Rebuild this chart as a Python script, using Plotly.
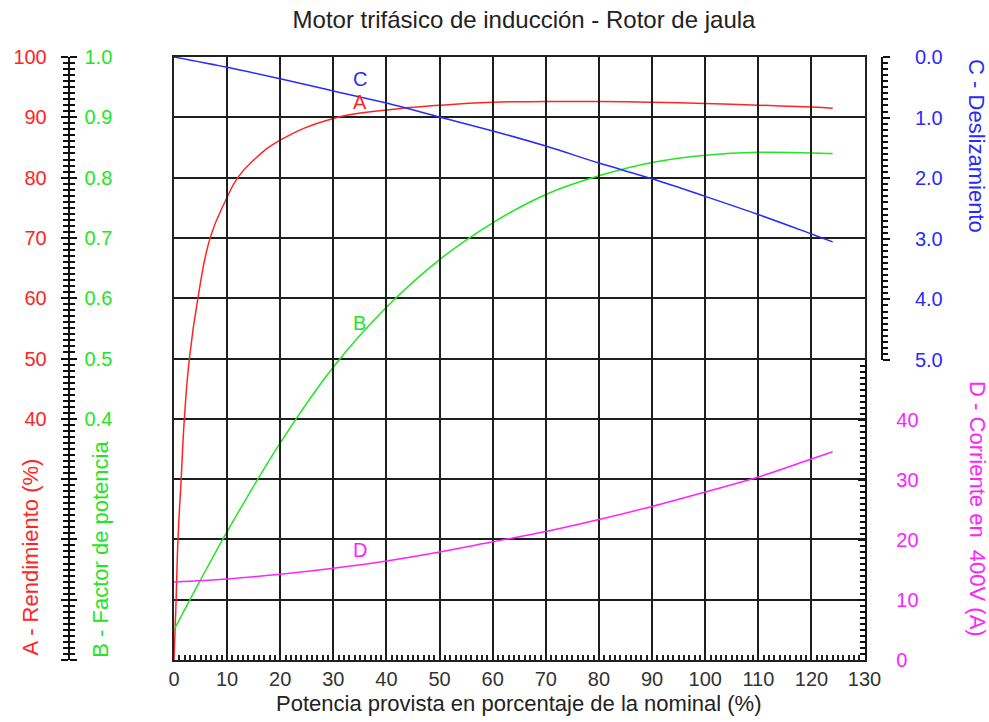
import plotly.graph_objects as go

W, H = 989, 722

# ---- data ----
pot_A = [0, 0.4, 0.75, 1.35, 1.95, 2.9, 4.5, 6.8, 9.6, 12, 15, 20, 30, 40, 50, 60, 70, 80, 90, 100, 110, 120, 124]
rend_A = [0, 10, 20, 30, 40, 50, 60, 70, 76, 80, 82.9, 86.2, 89.8, 91.2, 92.0, 92.5, 92.6, 92.6, 92.5, 92.3, 92.0, 91.7, 91.5]

pot_B = [0, 5, 10, 20, 30, 40, 50, 60, 70, 80, 90, 100, 110, 120, 124]
fp_B = [0.05, 0.133, 0.213, 0.36, 0.486, 0.585, 0.664, 0.725, 0.772, 0.803, 0.825, 0.837, 0.842, 0.841, 0.84]

pot_C = [0, 10, 20, 30, 40, 50, 60, 70, 80, 90, 100, 110, 120, 124]
desl_C = [0, 0.17, 0.36, 0.56, 0.76, 0.99, 1.22, 1.47, 1.75, 2.01, 2.30, 2.60, 2.92, 3.05]

pot_D = [0, 10, 20, 30, 40, 50, 60, 70, 80, 90, 100, 110, 120, 124]
corr_D = [13.0, 13.5, 14.3, 15.3, 16.5, 18.0, 19.7, 21.4, 23.4, 25.6, 28.0, 30.5, 33.5, 34.7]

x_ticks = list(range(0, 131, 10))
rend_ticks = list(range(0, 101, 10))
rend_labels = ["" if v < 40 else str(v) for v in rend_ticks]
fp_ticks = [v / 10 for v in range(0, 11)]
fp_labels = ["" if v < 0.4 else f"{v:.1f}" for v in fp_ticks]
desl_ticks = [0, 1, 2, 3, 4, 5]
desl_labels = [f"{v:.1f}" for v in desl_ticks]
corr_ticks = [0, 10, 20, 30, 40]

RED = "#ff2424"
GREEN = "#22e622"
BLUE = "#2a2aff"
MAG = "#ff22ff"
FONT = "Liberation Sans, Arial, sans-serif"
TICKF = 20
TITLEF = 22

# pixel geometry
L, R, T, B = 172, 879, 57, 660
xd = [L / W, R / W]
mid = (B - 360) / (B - T)

fig = go.Figure()
fig.add_trace(go.Scatter(x=pot_A, y=rend_A, mode="lines", line=dict(color=RED, width=1.5, shape="spline", smoothing=1.3),
                         xaxis="x", yaxis="y2", showlegend=False))
fig.add_trace(go.Scatter(x=[], y=[], mode="lines", xaxis="x", yaxis="y", showlegend=False, hoverinfo="skip"))
fig.add_trace(go.Scatter(x=pot_B, y=fp_B, mode="lines", line=dict(color=GREEN, width=1.5, shape="spline"),
                         xaxis="x", yaxis="y3", showlegend=False))
fig.add_trace(go.Scatter(x=pot_C, y=desl_C, mode="lines", line=dict(color=BLUE, width=1.5, shape="spline"),
                         xaxis="x", yaxis="y4", showlegend=False))
fig.add_trace(go.Scatter(x=pot_D, y=corr_D, mode="lines", line=dict(color=MAG, width=1.5, shape="spline"),
                         xaxis="x", yaxis="y5", showlegend=False))

grid = "#1e1e1e"
fig.update_layout(
    width=W, height=H,
    margin=dict(l=0, r=0, t=T, b=H - B),
    paper_bgcolor="white", plot_bgcolor="rgba(0,0,0,0)",
    font=dict(family=FONT, size=TICKF, color="#222"),
    title=dict(text="Motor trifásico de inducción - Rotor de jaula", x=524 / W, xanchor="center",
               y=1 - 20 / H, yanchor="middle", font=dict(size=24, color="#222")),
    xaxis=dict(domain=xd, range=[0, 130], tickvals=x_ticks, ticks="inside", ticklen=9, tickwidth=1.5,
               tickcolor="#222", showgrid=True, gridcolor=grid, gridwidth=1.6, zeroline=False,
               showline=True, linecolor="#222", linewidth=1.5, mirror=True,
               minor=dict(dtick=1, ticklen=5, tickcolor="#222", ticks="inside", showgrid=False),
               tickfont=dict(size=TICKF, color="#333"), fixedrange=True),
    yaxis=dict(domain=[0, 1], range=[0, 100], tickvals=rend_ticks, showticklabels=False, ticks="",
               showgrid=True, gridcolor=grid, gridwidth=1.6, zeroline=False,
               showline=True, linecolor="#222", linewidth=1.5, mirror=True, anchor="x"),
    yaxis2=dict(range=[0, 100], overlaying="y", anchor="free", position=64 / W, side="left",
                tickvals=rend_ticks, ticktext=rend_labels, ticks="outside", ticklen=7, tickwidth=1.5,
                tickcolor="#111", showline=True, linecolor="#111", linewidth=1.5, showgrid=False, zeroline=False,
                minor=dict(dtick=1, ticklen=5, tickcolor="#111", ticks="outside", showgrid=False),
                tickfont=dict(size=TICKF, color=RED), ticklabelstandoff=10),
    yaxis3=dict(range=[0, 1], overlaying="y", anchor="free", position=64 / W, side="right",
                tickvals=fp_ticks, ticktext=fp_labels, ticks="outside", ticklen=7, tickwidth=1.5,
                tickcolor="#111", showline=False, showgrid=False, zeroline=False,
                minor=dict(dtick=0.01, ticklen=5, tickcolor="#111", ticks="outside", showgrid=False),
                tickfont=dict(size=TICKF, color=GREEN), ticklabelstandoff=4),
    yaxis4=dict(domain=[mid, 1], range=[5, 0], anchor="free", position=897 / W, side="right",
                tickvals=desl_ticks, ticktext=desl_labels, ticks="outside", ticklen=7, tickwidth=1.5,
                tickcolor="#111", showline=True, linecolor="#111", linewidth=1.5, showgrid=False, zeroline=False,
                minor=dict(dtick=0.1, ticklen=5, tickcolor="#111", ticks="outside", showgrid=False),
                tickfont=dict(size=TICKF, color=BLUE), ticklabelstandoff=21),
    yaxis5=dict(domain=[0, mid], range=[0, 50], anchor="x", side="right",
                tickvals=corr_ticks, ticks="inside", ticklen=7, tickwidth=1.5,
                tickcolor="#111", showline=True, linecolor="#111", linewidth=1.5, showgrid=False, zeroline=False,
                minor=dict(dtick=1, ticklen=5, tickcolor="#111", ticks="inside", showgrid=False),
                tickfont=dict(size=TICKF, color=MAG), ticklabelstandoff=26),
)

ann = []
# curve labels
for txt, yv, col in [("C", 96.4, BLUE), ("A", 92.6, RED), ("B", 55.9, GREEN), ("D", 18.2, MAG)]:
    ann.append(dict(x=35, y=yv, xref="x", yref="y", text=txt, showarrow=False,
                    xanchor="center", yanchor="middle", font=dict(size=20, color=col)))
# axis titles
def title_ann(text, px, py, angle, col):
    return dict(x=px / W, y=(B - py) / (B - T), xref="paper", yref="paper", text=text,
                textangle=angle, showarrow=False, xanchor="center", yanchor="middle",
                font=dict(size=TITLEF, color=col))

ann.append(title_ann("A - Rendimiento (%)", 25, 557, -90, RED))
ann.append(title_ann("B - Factor de potencia", 96, 549, -90, GREEN))
ann.append(title_ann("C - Deslizamiento", 994, 146, 90, BLUE))
ann.append(title_ann("D - Corriente en\u00a0 400V (A)", 994, 509, 90, MAG))
ann.append(title_ann("Potencia provista en porcentaje de la nominal (%)", (L + R) / 2, 703, 0, "#222"))
fig.update_layout(annotations=ann)

fig.write_html("out.html")
